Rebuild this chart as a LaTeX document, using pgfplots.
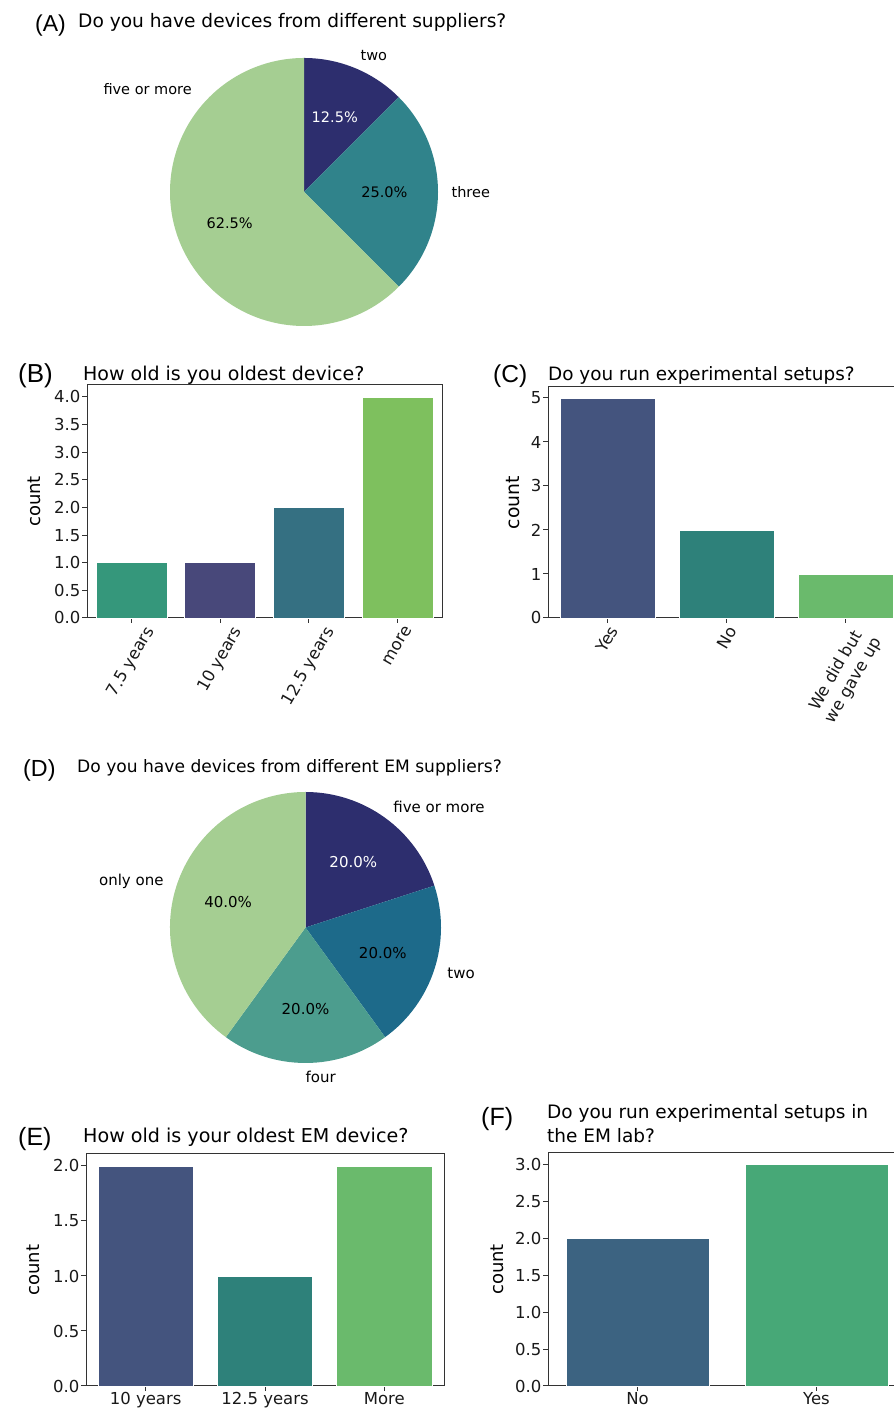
\documentclass[border=0pt]{standalone}
\usepackage{fontspec}
\setmainfont{DejaVu Sans}
\newfontfamily\panelfont{Liberation Sans}
\usepackage{graphicx}
\usepackage{pgfplots}
\pgfplotsset{compat=1.18}

% pie colours (crest-like)
\definecolor{pnavy}{HTML}{2D2E6E}
\definecolor{pteal}{HTML}{30838B}
\definecolor{pblue}{HTML}{1D6A8A}
\definecolor{pgreen}{HTML}{4C9D8E}
\definecolor{plight}{HTML}{A5CE92}
% bar colours (viridis, desaturated)
\definecolor{bgreen}{HTML}{35977B}
\definecolor{bpurple}{HTML}{48487A}
\definecolor{bblue}{HTML}{357082}
\definecolor{blime}{HTML}{7EC05E}
\definecolor{cblue}{HTML}{44547E}
\definecolor{cteal}{HTML}{2E817A}
\definecolor{cgreen}{HTML}{6ABA6C}
\definecolor{fblue}{HTML}{3C6381}
\definecolor{fgreen}{HTML}{47A877}

\pgfplotsset{
  baraxis/.style={
    scale only axis, anchor=south west, clip=false,
    ymin=0, xmin=-0.5,
    axis line style={draw=black!80, line width=1pt},
    tick align=outside, tick pos=left,
    major tick length=5pt,
    tick style={draw=black!80, line width=1pt},
    tick label style={font=\fontsize{16.5}{20}\selectfont, inner sep=1.5pt, text=black!90},
    /pgf/number format/assume math mode=true,
    ylabel={count},
    ylabel style={font=\fontsize{18}{21}\selectfont, anchor=center},
  },
  onebar/.style={ybar, bar width=0.8, bar shift=0pt, fill=#1, draw=white, line width=0.6pt},
  pieaxis/.style={scale only axis, anchor=south west, hide axis, clip=false,
    xmin=-1, xmax=1, ymin=-1, ymax=1},
}

\begin{document}
\begin{tikzpicture}[x=1pt,y=1pt]
\useasboundingbox (0,0) rectangle (894,1408);
\clip (0,0) rectangle (894,1408);

% ---------- (A) pie ----------
\node[anchor=base west, inner sep=0pt, font=\panelfont\fontsize{23}{23}\selectfont] at (35,1376) {(A)};
\node[anchor=base west, inner sep=0pt, font=\fontsize{18.6}{22}\selectfont] at (78,1380) {Do you have devices from different suppliers?};
\begin{axis}[pieaxis, at={(170pt,1082pt)}, width=268pt, height=268pt]
% two 12.5%, three 25.0%, five or more 62.5% (clockwise from the top)
\addplot[fill=pnavy, draw=none] coordinates {(0,0) (0,1)} arc[start angle=90, end angle=45, radius=134pt] -- cycle;
\addplot[fill=pteal, draw=none] coordinates {(0,0) (0.70711,0.70711)} arc[start angle=45, end angle=-45, radius=134pt] -- cycle;
\addplot[fill=plight, draw=none] coordinates {(0,0) (0.70711,-0.70711)} arc[start angle=-45, end angle=-270, radius=134pt] -- cycle;
\begin{scope}[font=\fontsize{14.5}{17}\selectfont]
\node[anchor=west, inner sep=0pt] at (axis cs:0.421,1.016) {two};
\node[anchor=west, inner sep=0pt] at (axis cs:1.1,0) {three};
\node[anchor=east, inner sep=0pt] at (axis cs:-0.836,0.769) {five or more};
\node[text=white] at (axis cs:0.2296,0.5543) {12.5\%};
\node at (axis cs:0.6,0) {25.0\%};
\node at (axis cs:-0.5543,-0.2296) {62.5\%};
\end{scope}
\end{axis}

% ---------- (B) ----------
\node[anchor=base west, inner sep=0pt, font=\panelfont\fontsize{26}{26}\selectfont] at (18,1025) {(B)};
\node[anchor=base west, inner sep=0pt, font=\fontsize{19}{22}\selectfont] at (83,1027) {How old is you oldest device?};
\begin{axis}[baraxis, at={(87pt,790pt)}, width=355pt, height=233pt,
  xmax=3.5, ymax=4.217, xtick={0,1,2,3},
  xticklabels={\rotatebox{60}{7.5 years},\rotatebox{60}{10 years},\rotatebox{60}{12.5 years},\rotatebox{60}{more}},
  ytick={0,0.5,1,1.5,2,2.5,3,3.5,4},
  yticklabel style={/pgf/number format/.cd, fixed, fixed zerofill, precision=1},
  ylabel style={at={(axis description cs:-0.148,0.5)}}]
\addplot[onebar=bgreen] coordinates {(0,1)};
\addplot[onebar=bpurple] coordinates {(1,1)};
\addplot[onebar=bblue] coordinates {(2,2)};
\addplot[onebar=blime] coordinates {(3,4)};
\end{axis}

% ---------- (C) ----------
\node[anchor=base west, inner sep=0pt, font=\panelfont\fontsize{24.5}{25}\selectfont] at (493,1025) {(C)};
\node[anchor=base west, inner sep=0pt, font=\fontsize{18.4}{22}\selectfont] at (548,1027) {Do you run experimental setups?};
\begin{axis}[baraxis, at={(548pt,790pt)}, width=357pt, height=231pt,
  xmax=2.5, ymax=5.25, xtick={0,1,2}, ytick={0,1,2,3,4,5},
  xticklabels={\rotatebox{60}{Yes},\rotatebox{60}{No},\rotatebox{60}{\begin{tabular}{@{}c@{}}We did but\\we gave up\end{tabular}}},
  ylabel style={at={(axis description cs:-0.098,0.5)}, font=\fontsize{18.8}{22}\selectfont}]
\addplot[onebar=cblue] coordinates {(0,5)};
\addplot[onebar=cteal] coordinates {(1,2)};
\addplot[onebar=cgreen] coordinates {(2,1)};
\end{axis}

% ---------- (D) pie ----------
\node[anchor=base west, inner sep=0pt, font=\panelfont\fontsize{23.3}{24}\selectfont] at (23,631) {(D)};
\node[anchor=base west, inner sep=0pt, font=\fontsize{17.1}{20}\selectfont] at (77,635) {Do you have devices from different EM suppliers?};
\begin{axis}[pieaxis, at={(170pt,345pt)}, width=271pt, height=271pt]
% five or more 20%, two 20%, four 20%, only one 40% (clockwise from the top)
\addplot[fill=pnavy, draw=none] coordinates {(0,0) (0,1)} arc[start angle=90, end angle=18, radius=135.5pt] -- cycle;
\addplot[fill=pblue, draw=none] coordinates {(0,0) (0.95106,0.30902)} arc[start angle=18, end angle=-54, radius=135.5pt] -- cycle;
\addplot[fill=pgreen, draw=none] coordinates {(0,0) (0.58779,-0.80902)} arc[start angle=-54, end angle=-126, radius=135.5pt] -- cycle;
\addplot[fill=plight, draw=none] coordinates {(0,0) (-0.58779,-0.80902)} arc[start angle=-126, end angle=-270, radius=135.5pt] -- cycle;
\begin{scope}[font=\fontsize{15}{18}\selectfont]
\node[anchor=west, inner sep=0pt] at (axis cs:0.6466,0.8899) {five or more};
\node[anchor=west, inner sep=0pt] at (axis cs:1.0462,-0.3399) {two};
\node[anchor=west, inner sep=0pt] at (axis cs:0,-1.1) {four};
\node[anchor=east, inner sep=0pt] at (axis cs:-1.0462,0.3399) {only one};
\node[text=white] at (axis cs:0.3527,0.4854) {20.0\%};
\node at (axis cs:0.5706,-0.1854) {20.0\%};
\node at (axis cs:0,-0.6) {20.0\%};
\node at (axis cs:-0.5706,0.1854) {40.0\%};
\end{scope}
\end{axis}

% ---------- (E) ----------
\node[anchor=base west, inner sep=0pt, font=\panelfont\fontsize{25}{25}\selectfont] at (18,262) {(E)};
\node[anchor=base west, inner sep=0pt, font=\fontsize{19.1}{22}\selectfont] at (83,265) {How old is your oldest EM device?};
\begin{axis}[baraxis, at={(86pt,22pt)}, width=358pt, height=232pt,
  xmax=2.5, ymax=2.109, xtick={0,1,2}, xticklabels={10 years,12.5 years,More},
  ytick={0,0.5,1,1.5,2},
  yticklabel style={/pgf/number format/.cd, fixed, fixed zerofill, precision=1},
  ylabel style={at={(axis description cs:-0.148,0.5)}}]
\addplot[onebar=cblue] coordinates {(0,2)};
\addplot[onebar=cteal] coordinates {(1,1)};
\addplot[onebar=cgreen] coordinates {(2,2)};
\end{axis}

% ---------- (F) ----------
\node[anchor=base west, inner sep=0pt, font=\panelfont\fontsize{25}{25}\selectfont] at (481,282) {(F)};
\node[anchor=base west, inner sep=0pt, font=\fontsize{18.5}{22}\selectfont] at (547,289) {Do you run experimental setups in};
\node[anchor=base west, inner sep=0pt, font=\fontsize{18.5}{22}\selectfont] at (547,265) {the EM lab?};
\begin{axis}[baraxis, at={(548pt,22pt)}, width=358pt, height=233pt,
  xmax=1.5, ymax=3.16, xtick={0,1}, xticklabels={No,Yes},
  ytick={0,0.5,1,1.5,2,2.5,3},
  yticklabel style={/pgf/number format/.cd, fixed, fixed zerofill, precision=1},
  ylabel style={at={(axis description cs:-0.142,0.5)}}]
\addplot[onebar=fblue] coordinates {(0,2)};
\addplot[onebar=fgreen] coordinates {(1,3)};
\end{axis}
\end{tikzpicture}
\end{document}
